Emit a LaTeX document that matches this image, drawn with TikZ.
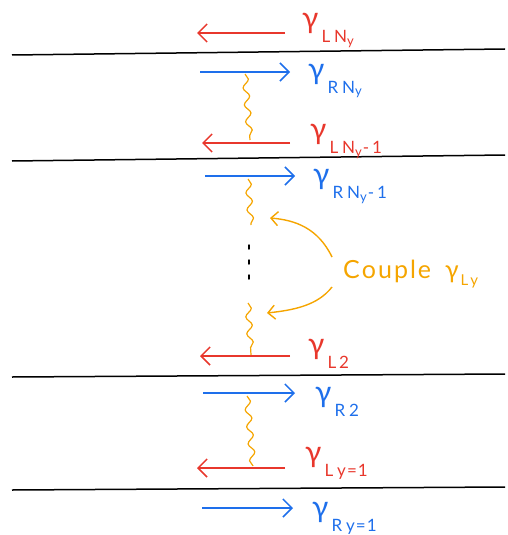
\documentclass[tikz,border=0pt]{standalone}
\usepackage{fontspec}
\setmainfont{Lato}
\usetikzlibrary{arrows.meta,decorations.pathmorphing}

\definecolor{movred}{HTML}{E8372C}
\definecolor{movblue}{HTML}{1E6FEB}
\definecolor{coupleorange}{HTML}{F5A500}

% gamma with a lowered subscript, and a second-level index
\newcommand{\gmode}[1]{{\fontsize{30}{30}\selectfont γ}\hspace{3pt}\raisebox{-14pt}{\fontsize{17}{17}\selectfont #1}}
\newcommand{\ssub}[1]{\raisebox{-3pt}{\fontsize{13}{13}\selectfont #1}}

\begin{document}
\begin{tikzpicture}[
  x=1pt, y=-1pt,
  wall/.style={line width=1.5pt, black},
  leftmover/.style={movred, line width=1.5pt, -{Straight Barb[length=9pt,width=18pt]}},
  rightmover/.style={movblue, line width=1.5pt, -{Straight Barb[length=9pt,width=18pt]}},
  redlab/.style={movred, anchor=base west, inner sep=0pt},
  bluelab/.style={movblue, anchor=base west, inner sep=0pt},
  wiggle/.style={coupleorange, line width=1.2pt, decorate,
    decoration={snake, amplitude=3pt, segment length=17pt}},
  pointer/.style={coupleorange, line width=1.4pt, -{Straight Barb[length=7pt,width=14pt]}}
]
\useasboundingbox (0,0) rectangle (508,535);

% edges between the strips
\draw[wall] (12,55) -- (505,49);
\draw[wall] (12,161) -- (505,155);
\draw[wall] (12,377) -- (505,374);
\draw[wall] (12,490) -- (505,487);

% movers
\coordinate (l4a) at (285,33);  \coordinate (l4b) at (197,33);
\coordinate (r4a) at (200,72);  \coordinate (r4b) at (290,72);
\coordinate (l3a) at (290,143); \coordinate (l3b) at (202,143);
\coordinate (r3a) at (205,176); \coordinate (r3b) at (295,176);
\coordinate (l2a) at (290,356); \coordinate (l2b) at (200,356);
\coordinate (r2a) at (203,393); \coordinate (r2b) at (295,393);
\coordinate (l1a) at (285,468); \coordinate (l1b) at (197,468);
\coordinate (r1a) at (202,508); \coordinate (r1b) at (293,508);

\draw[leftmover] (l4a) -- (l4b);
\draw[rightmover] (r4a) -- (r4b);
\draw[leftmover] (l3a) -- (l3b);
\draw[rightmover] (r3a) -- (r3b);
\draw[leftmover] (l2a) -- (l2b);
\draw[rightmover] (r2a) -- (r2b);
\draw[leftmover] (l1a) -- (l1b);
\draw[rightmover] (r1a) -- (r1b);

\node[redlab] (gl4) at (302,29) {\gmode{L\hspace{4pt}N\ssub{y}}};
\node[bluelab] (gr4) at (308,79) {\gmode{R\hspace{4pt}N\ssub{y}}};
\node[redlab] (gl3) at (310,139) {\gmode{L\hspace{4pt}N\ssub{y}\hspace{1pt}-\hspace{3pt}1}};
\node[bluelab] (gr3) at (313,184) {\gmode{R\hspace{4pt}N\ssub{y}\hspace{1pt}-\hspace{3pt}1}};
\node[redlab] (gl2) at (308,354) {\gmode{L\hspace{3pt}2}};
\node[bluelab] (gr2) at (315,402) {\gmode{R\hspace{4pt}2}};
\node[redlab] (gl1) at (305,462) {\gmode{L\hspace{4pt}y\hspace{1pt}=\hspace{1pt}1}};
\node[bluelab] (gr1) at (312,517) {\gmode{R\hspace{4pt}y\hspace{1pt}=\hspace{1pt}1}};

% coupling between neighbouring strips
\coordinate (w4a) at (245,74);  \coordinate (w4b) at (250,140);
\coordinate (w3a) at (248,179); \coordinate (w3b) at (251,225);
\coordinate (w2a) at (248,303); \coordinate (w2b) at (251,355);
\coordinate (w1a) at (247,396); \coordinate (w1b) at (253,466);
\draw[wiggle] (w4a) -- (w4b);
\draw[wiggle] (w3a) -- (w3b);
\draw[wiggle] (w2a) -- (w2b);
\draw[wiggle] (w1a) -- (w1b);

\foreach \dy in {245,260,275}
  \draw[line width=1.5pt, line cap=round] (249,\dy) -- (249,\dy+4);

\node[coupleorange, anchor=base west, inner sep=0pt] (couple) at (343,278)
  {\fontsize{25}{25}\selectfont C\hspace{2pt}o\hspace{2pt}u\hspace{2pt}p\hspace{2pt}l\hspace{2pt}e\hspace{14pt}γ\hspace{2pt}\raisebox{-7pt}{\fontsize{15}{15}\selectfont L\hspace{2pt}y}};
\coordinate (up) at (270,218);
\coordinate (down) at (267,313);
\draw[pointer] ([xshift=-11pt,yshift=21pt]couple.base west) .. controls (318,228) and (295,220) .. (up);
\draw[pointer] ([xshift=-11pt,yshift=-9pt]couple.base west) .. controls (318,305) and (295,310) .. (down);
\end{tikzpicture}
\end{document}
